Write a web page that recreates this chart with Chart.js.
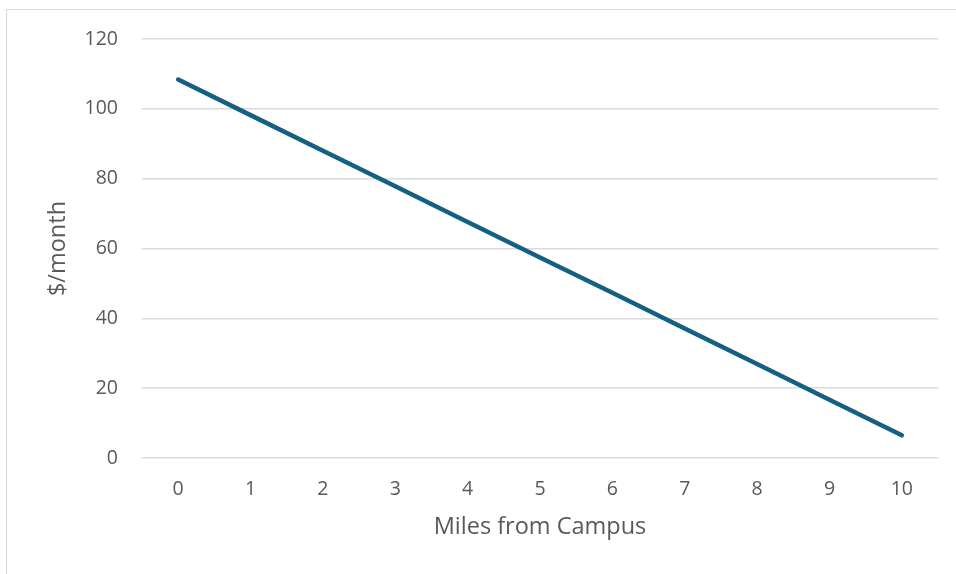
<!DOCTYPE html>
<html>
<head>
<meta charset="utf-8">
<script src="https://cdn.jsdelivr.net/npm/chart.js@4/dist/chart.umd.min.js"></script>
<style>
  body { margin: 0; overflow: hidden; background: #fff; }
  #frame { position: absolute; left: 6px; top: 9px; width: 1200px; height: 800px; border: 1.5px solid #d9d9d9; }
  #chart { position: absolute; left: 0; top: 0; }
</style>
</head>
<body>
<div id="frame"></div>
<canvas id="chart" width="956" height="574"></canvas>
<script>
// miles from campus (categories)
const miles = ['0', '1', '2', '3', '4', '5', '6', '7', '8', '9', '10'];
// $/month
const cost = [108.4, 98.2, 88.0, 77.8, 67.6, 57.4, 47.3, 37.1, 26.9, 16.7, 6.5];
const yTicks = [0, 20, 40, 60, 80, 100, 120];

const textColor = '#595959';
const fontFamily = '"Open Sans", "Liberation Sans", sans-serif';

const ctx = document.getElementById('chart').getContext('2d');
const chart = new Chart(ctx, {
    type: 'line',
    data: {
        labels: miles,
        datasets: [{
            label: '$/month',
            data: cost,
            borderColor: '#156082',
            borderWidth: 4.5,
            borderCapStyle: 'round',
            pointRadius: 0,
            fill: false,
            tension: 0
        }]
    },
    options: {
        responsive: false,
        animation: false,
        devicePixelRatio: 1,
        layout: { padding: { left: 0, top: 39, right: 18, bottom: 0 } },
        plugins: {
            legend: { display: false },
            tooltip: { enabled: false }
        },
        scales: {
            x: {
                type: 'category',
                offset: true,
                grid: { display: false, drawTicks: false },
                border: { display: false },
                ticks: {
                    color: textColor,
                    font: { family: fontFamily, size: 19.5 },
                    padding: 20,
                    maxRotation: 0
                },
                title: {
                    display: true,
                    text: 'Miles from Campus',
                    color: textColor,
                    font: { family: fontFamily, size: 23.5 },
                    padding: { top: 0, bottom: 33 }
                },
                afterFit: (scale) => { scale.height = 116; }
            },
            y: {
                min: 0,
                max: 120,
                afterBuildTicks: (scale) => { scale.ticks = yTicks.map(v => ({ value: v })); },
                grid: { color: '#d9d9d9', lineWidth: 1.5, drawTicks: false },
                border: { display: false },
                ticks: {
                    color: textColor,
                    font: { family: fontFamily, size: 19.5 },
                    padding: 24
                },
                title: {
                    display: true,
                    text: '$/month',
                    color: textColor,
                    font: { family: fontFamily, size: 23.5 },
                    padding: { top: 44, bottom: 0 }
                },
                afterFit: (scale) => { scale.width = 142; }
            }
        }
    }
});
</script>
</body>
</html>
